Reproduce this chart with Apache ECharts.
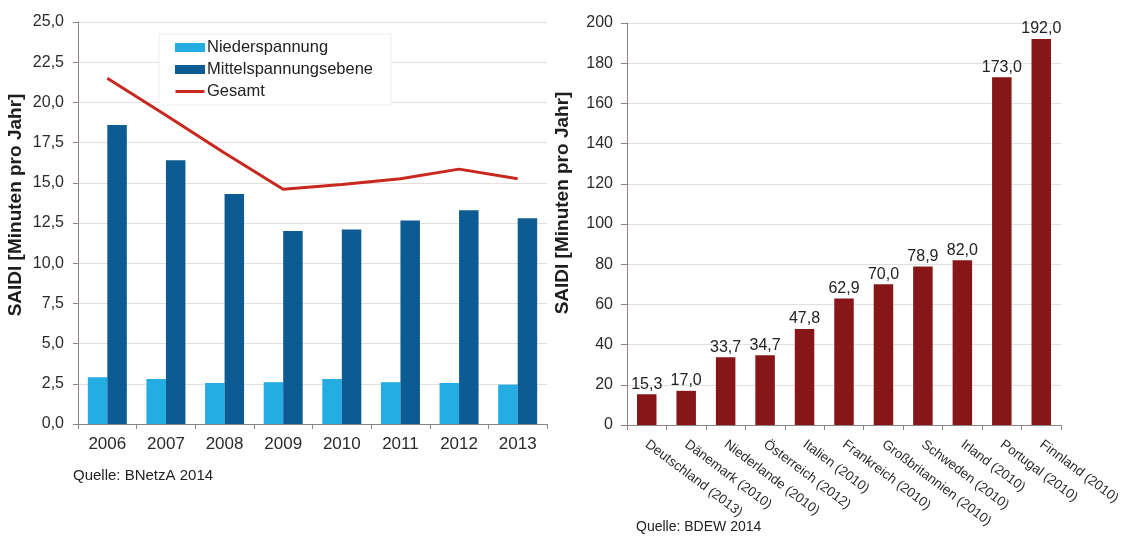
<!DOCTYPE html>
<html>
<head>
<meta charset="utf-8">
<script src="https://cdn.jsdelivr.net/npm/echarts@6/dist/echarts.min.js"></script>
<style>
html,body{margin:0;padding:0;background:#fff;}
#chart{width:1129px;height:536px;}
</style>
</head>
<body>
<div id="chart"></div>
<script>
// Left chart data
const years = ['2006','2007','2008','2009','2010','2011','2012','2013'];
const niederspannung = [2.9, 2.8, 2.55, 2.6, 2.8, 2.6, 2.55, 2.45];
const mittelspannung = [18.6, 16.4, 14.3, 12.0, 12.1, 12.65, 13.3, 12.8];
const gesamt = [21.5, 19.2, 16.85, 14.6, 14.9, 15.25, 15.85, 15.25];

// Right chart data
const countries = ['Deutschland (2013)','Dänemark (2010)','Niederlande (2010)','Österreich (2012)','Italien (2010)','Frankreich (2010)','Großbritannien (2010)','Schweden (2010)','Irland (2010)','Portugal (2010)','Finnland (2010)'];
const saidiCountries = [15.3, 17.0, 33.7, 34.7, 47.8, 62.9, 70.0, 78.9, 82.0, 173.0, 192.0];

const FONT = '"Liberation Sans", Arial, sans-serif';
const axisCol = '#8c8484';
const gridCol = '#e3dfdf';
const txtCol = '#2b2b2b';
const comma1 = v => Number(v).toFixed(1).replace('.', ',');
const lineIcon = 'path://M0,0 L0.01,0 L0.01,0.01 L0,0.01 Z M0,3 L29,3 L29,6 L0,6 Z M28.99,8.99 L29,8.99 L29,9 L28.99,9 Z';

const chart = echarts.init(document.getElementById('chart'), null, {renderer: 'canvas'});
chart.setOption({
  animation: false,
  backgroundColor: '#fff',
  textStyle: {fontFamily: FONT},
  grid: [
    {left: 78, top: 22, width: 469, height: 402},
    {left: 627, top: 23, width: 434, height: 402}
  ],
  legend: {
    data: [
      {name: 'Niederspannung', icon: 'rect'},
      {name: 'Mittelspannungsebene', icon: 'rect'},
      {name: 'Gesamt', icon: lineIcon}
    ],
    orient: 'vertical',
    left: 159, top: 34,
    padding: [5, 18, 5, 16],
    itemWidth: 30, itemHeight: 9, itemGap: 5,
    backgroundColor: '#fff',
    borderColor: '#f0eeee', borderWidth: 1,
    textStyle: {fontFamily: FONT, fontSize: 16.5, color: '#222', padding: [0, 0, 0, -3]}
  },
  xAxis: [
    {
      type: 'category', gridIndex: 0, data: years,
      axisLine: {lineStyle: {color: axisCol}},
      axisTick: {show: true, length: 5, lineStyle: {color: axisCol}},
      axisLabel: {fontFamily: FONT, fontSize: 17, color: txtCol, margin: 12}
    },
    {
      type: 'category', gridIndex: 1, data: countries,
      axisLine: {lineStyle: {color: axisCol}},
      axisTick: {show: true, length: 5, lineStyle: {color: axisCol}},
      axisLabel: {fontFamily: FONT, fontSize: 13.5, color: txtCol, rotate: -37, margin: 18, interval: 0}
    }
  ],
  yAxis: [
    {
      type: 'value', gridIndex: 0, min: 0, max: 25, interval: 2.5,
      axisLine: {show: true, lineStyle: {color: axisCol}},
      axisTick: {show: true, length: 5, lineStyle: {color: axisCol}},
      axisLabel: {fontFamily: FONT, fontSize: 16, color: txtCol, margin: 14, formatter: comma1},
      splitLine: {lineStyle: {color: gridCol}}
    },
    {
      type: 'value', gridIndex: 1, min: 0, max: 200, interval: 20,
      axisLine: {show: true, lineStyle: {color: axisCol}},
      axisTick: {show: true, length: 6, lineStyle: {color: axisCol}},
      axisLabel: {fontFamily: FONT, fontSize: 16, color: txtCol, margin: 14},
      splitLine: {lineStyle: {color: gridCol}}
    }
  ],
  series: [
    {
      name: 'Niederspannung', type: 'bar', xAxisIndex: 0, yAxisIndex: 0,
      data: niederspannung, barWidth: 19.5, barGap: '0%',
      itemStyle: {color: '#24ade3'}
    },
    {
      name: 'Mittelspannungsebene', type: 'bar', xAxisIndex: 0, yAxisIndex: 0,
      data: mittelspannung, barWidth: 19.5, barGap: '0%',
      itemStyle: {color: '#0c5b93'}
    },
    {
      name: 'Gesamt', type: 'line', xAxisIndex: 0, yAxisIndex: 0,
      data: gesamt, symbol: 'none',
      lineStyle: {color: '#c9281f', width: 3},
      itemStyle: {color: '#c9281f'}
    },
    {
      name: 'Länder', type: 'bar', xAxisIndex: 1, yAxisIndex: 1,
      data: saidiCountries, barWidth: 19.5,
      itemStyle: {color: '#861618'},
      label: {show: true, position: 'top', distance: 2, fontFamily: FONT, fontSize: 16, color: '#222', formatter: p => comma1(p.value)}
    }
  ],
  graphic: [
    {type: 'text', x: 16, y: 205, rotation: Math.PI / 2,
     style: {text: 'SAIDI [Minuten pro Jahr]', font: 'bold 19px ' + FONT, fill: '#1e1e1e', align: 'center', verticalAlign: 'middle'}},
    {type: 'text', x: 563, y: 203, rotation: Math.PI / 2,
     style: {text: 'SAIDI [Minuten pro Jahr]', font: 'bold 19px ' + FONT, fill: '#1e1e1e', align: 'center', verticalAlign: 'middle'}},
    {type: 'text', left: 73, top: 468, style: {text: 'Quelle: BNetzA 2014', font: '15px ' + FONT, fill: '#222'}},
    {type: 'text', left: 636, top: 520, style: {text: 'Quelle: BDEW 2014', font: '14px ' + FONT, fill: '#222'}}
  ]
});
</script>
</body>
</html>
